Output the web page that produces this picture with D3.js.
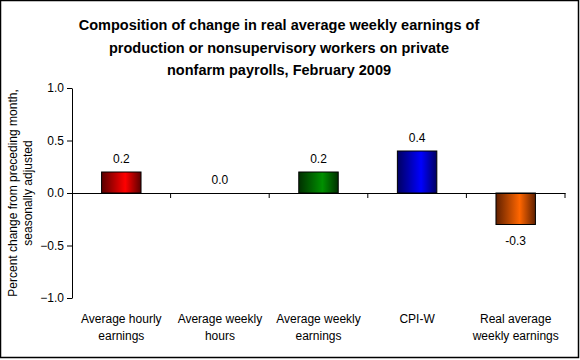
<!DOCTYPE html>
<html><head><meta charset="utf-8">
<script src="https://cdn.jsdelivr.net/npm/d3@7/dist/d3.min.js"></script>
<style>body{margin:0;background:#fff}svg{display:block;font-family:Arial,"Liberation Sans",sans-serif}</style>
</head><body>
<svg id="c" width="580" height="360"></svg>
<script>
const categories = [["Average hourly","earnings"],["Average weekly","hours"],["Average weekly","earnings"],["CPI-W"],["Real average","weekly earnings"]];
const values = [0.2, 0.0, 0.2, 0.4, -0.3];
const valueLabels = ["0.2","0.0","0.2","0.4","-0.3"];
const yTicks = [1.0, 0.5, 0.0, -0.5, -1.0];
const barColors = [["#5a0000","#ff0000"],["#5a0000","#ff0000"],["#003000","#009000"],["#000060","#0000ff"],["#602000","#ff6600"]];
const titleLines = ["Composition of change in real average weekly earnings of","production or nonsupervisory workers on private","nonfarm payrolls, February 2009"];
const yTitle = ["Percent change from preceding month,","seasonally adjusted"];

const svg = d3.select("#c");
svg.append("rect").attr("x",0.5).attr("y",0.5).attr("width",578).attr("height",357).attr("fill","#fff").attr("stroke","#000").attr("stroke-width",1.5);

const x = d3.scaleBand().domain(d3.range(values.length)).range([72,565]).paddingInner(0.6).paddingOuter(0.3);
const xb = d3.scaleBand().domain(d3.range(values.length)).range([72,565]);
const y = d3.scaleLinear().domain([-1,1]).range([298,88]);

const defs = svg.append("defs");
barColors.forEach((c,i)=>{
  const g = defs.append("linearGradient").attr("id","g"+i).attr("x1","0").attr("x2","1").attr("y1","0").attr("y2","0");
  g.append("stop").attr("offset","0%").attr("stop-color",c[0]);
  g.append("stop").attr("offset","60%").attr("stop-color",c[1]);
  g.append("stop").attr("offset","100%").attr("stop-color",c[0]);
});

// title
svg.append("text").attr("x",279).attr("y",30).attr("text-anchor","middle").attr("font-weight","bold").attr("font-size",14.5)
  .selectAll("tspan").data(titleLines).join("tspan").attr("x",279).attr("dy",(d,i)=>i?22.5:0).text(d=>d);

// y axis
const yAxis = d3.axisLeft(y).tickValues(yTicks).tickFormat(d3.format(".1f")).tickSize(5).tickSizeOuter(0);
const ga = svg.append("g").attr("transform","translate(72,0)").call(yAxis);
ga.select(".domain").attr("stroke","#000");
ga.selectAll("text").attr("font-size",12).attr("fill","#000").attr("font-family",'Arial,"Liberation Sans",sans-serif');

// y title
svg.append("text").attr("transform","translate(17,193) rotate(-90)").attr("text-anchor","middle").attr("font-size",12)
  .selectAll("tspan").data(yTitle).join("tspan").attr("x",0).attr("dy",(d,i)=>i?15:0).text(d=>d);

// bars
svg.selectAll("rect.bar").data(values).join("rect").attr("class","bar")
  .attr("x",(d,i)=>x(i)).attr("width",x.bandwidth())
  .attr("y",d=>y(Math.max(0,d))).attr("height",d=>Math.abs(y(d)-y(0)))
  .attr("fill",(d,i)=>`url(#g${i})`).attr("stroke","#000").attr("stroke-width",1);

// x axis at zero
const xAxis = d3.axisBottom(xb).tickSize(0).tickFormat("");
const gx = svg.append("g").attr("transform",`translate(0,${y(0)})`).call(xAxis);
gx.select(".domain").attr("stroke","#000");
const bounds = xb.domain().map(i=>xb(i)).concat([565]);
gx.selectAll("line.bt").data(bounds.slice(1)).join("line").attr("class","bt")
  .attr("x1",d=>d).attr("x2",d=>d).attr("y1",0).attr("y2",5).attr("stroke","#000");

// value labels
svg.selectAll("text.vl").data(values).join("text").attr("class","vl")
  .attr("x",(d,i)=>xb(i)+xb.bandwidth()/2)
  .attr("y",d=> d>0 ? y(d)-9 : (d<0 ? y(d)+20 : y(0)-9))
  .attr("text-anchor","middle").attr("font-size",12).text((d,i)=>valueLabels[i]);

// category labels
svg.selectAll("text.cl").data(categories).join("text").attr("class","cl")
  .attr("text-anchor","middle").attr("font-size",12)
  .attr("transform",(d,i)=>`translate(${xb(i)+xb.bandwidth()/2},323)`)
  .selectAll("tspan").data(d=>d).join("tspan").attr("x",0).attr("dy",(d,i)=>i?16.5:0).text(d=>d);
</script>
</body></html>
